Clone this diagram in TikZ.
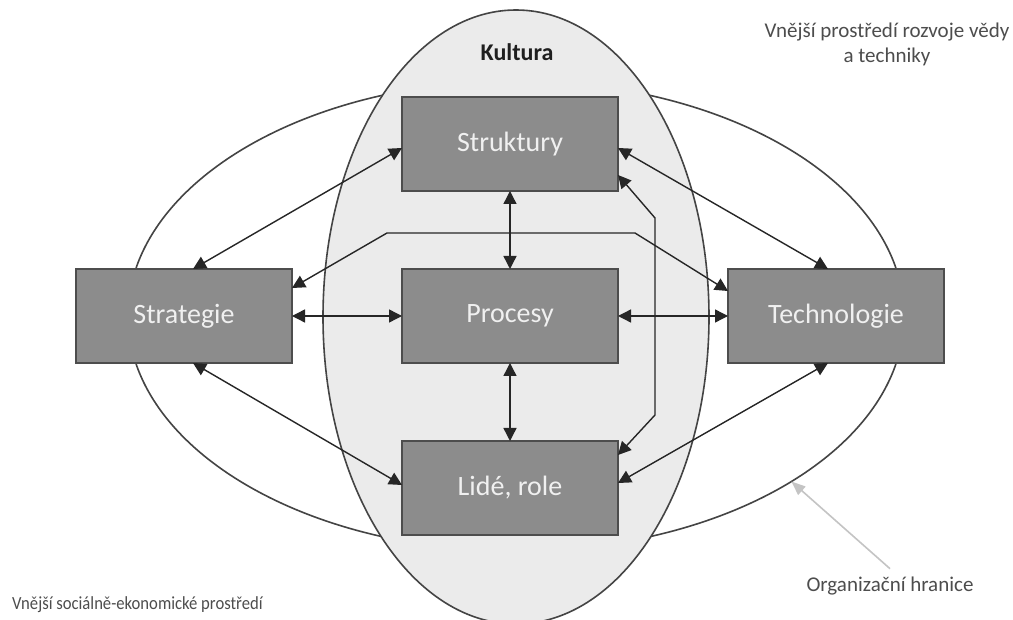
\documentclass[tikz,border=0pt]{standalone}
\usepackage{fontspec}
\setmainfont{Carlito}
\newfontfamily\narrowfont{Carlito}[FakeStretch=0.9]
\usetikzlibrary{shapes.geometric,arrows.meta}
\definecolor{boxfill}{HTML}{8C8C8C}
\definecolor{boxline}{HTML}{4D4D4D}
\definecolor{culture}{HTML}{EBEBEB}
\definecolor{wire}{HTML}{262626}
\definecolor{ring}{HTML}{444444}
\definecolor{note}{HTML}{4D4D4D}
\definecolor{pointer}{HTML}{C4C4C4}
\begin{document}
\begin{tikzpicture}[x=1pt,y=-1pt,
  block/.style={rectangle, draw=boxline, line width=1.4pt, fill=boxfill,
    minimum width=216pt, minimum height=94pt, inner sep=0pt, outer sep=0pt,
    text=white!94!black, font=\fontsize{28}{32}\selectfont},
  link/.style={draw=wire, line width=1.4pt,
    {Triangle[length=13pt,width=13pt]}-{Triangle[length=13pt,width=13pt]}},
  oval/.style={ellipse, inner sep=0pt, outer sep=0pt, draw=ring, line width=1.6pt},
  caption/.style={text=note, font=\fontsize{21}{25}\selectfont, inner sep=0pt}]

\useasboundingbox (0,0) rectangle (1013,620);
\fill[white] (0,0) rectangle (1013,620);

% organisation boundary and the culture oval
\node[oval, minimum width=776pt, minimum height=470pt] (org) at (516,316) {};
\node[oval, fill=culture, minimum width=386pt, minimum height=614pt] (kult) at (516,317) {};
\node[font=\fontsize{24}{28}\selectfont\bfseries, text=black!88, inner sep=0pt] (kultlbl) at (517,52) {Kultura};

% the five building blocks
\node[block] (stru)  at (510,144) {Struktury};
\node[block] (proc)  at (510,316) {Procesy};
\node[block] (lide)  at (510,488) {Lidé, role};
\node[block] (strat) at (184,316) {Strategie};
\node[block] (tech)  at (836,316) {Technologie};

% links between the blocks
\draw[link] ([yshift=-4pt]stru.west) -- ([xshift=9pt]strat.north);
\draw[link] ([yshift=-4pt]stru.east) -- ([xshift=-8pt]tech.north);
\draw[link] (stru.south) -- (proc.north);
\draw[link] (proc.south) -- (lide.north);
\draw[link] (strat.east) -- (proc.west);
\draw[link] (proc.east) -- (tech.west);
\draw[link] ([xshift=9pt]strat.south) -- ([yshift=3pt]lide.west);
\draw[link] ([xshift=-8pt]tech.south) -- ([yshift=5pt]lide.east);
\draw[link] ([yshift=28pt]strat.east) -- (387,233) -- (635,233) -- ([yshift=25pt]tech.west);
\draw[link] ([yshift=-31pt]stru.east) -- (655,218) -- (655,415) -- ([yshift=33pt]lide.east);

% surrounding environment labels
\node[caption, align=center] (science) at (887,44.5) {Vnější prostředí rozvoje vědy\\a techniky};
\node[caption, anchor=west, font=\narrowfont\fontsize{18.5}{22}\selectfont] (socio) at (12,605) {Vnější sociálně-ekonomické prostředí};
\node[caption] (orglbl) at (890,586) {Organizační hranice};
\draw[pointer, line width=1.6pt, -{Triangle[length=14pt,width=11pt]}]
  ([yshift=8pt]orglbl.north) -- (org.-31.4);
\end{tikzpicture}
\end{document}
